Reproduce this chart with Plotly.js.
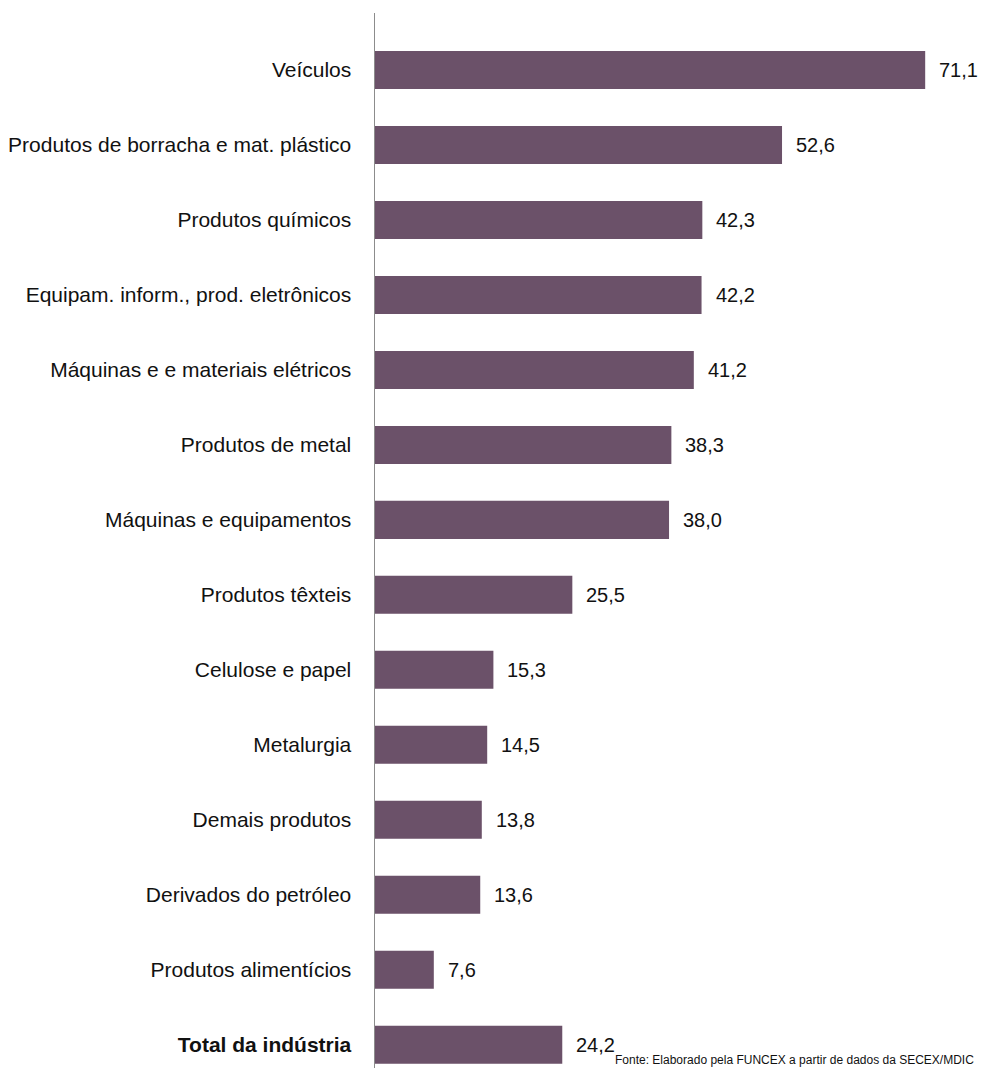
<!DOCTYPE html>
<html>
<head>
<meta charset="utf-8">
<script src="https://cdn.plot.ly/plotly-3.0.1.min.js"></script>
<style>
  html, body { margin: 0; padding: 0; background: #fff; }
  #chart { width: 984px; height: 1068px; }
</style>
</head>
<body>
<div id="chart"></div>
<script>
const categories = [
  "Veículos",
  "Produtos de borracha e mat. plástico",
  "Produtos químicos",
  "Equipam. inform., prod. eletrônicos",
  "Máquinas e e materiais elétricos",
  "Produtos de metal",
  "Máquinas e equipamentos",
  "Produtos têxteis",
  "Celulose e papel",
  "Metalurgia",
  "Demais produtos",
  "Derivados do petróleo",
  "Produtos alimentícios",
  "Total da indústria"
];
const values = [71.1, 52.6, 42.3, 42.2, 41.2, 38.3, 38.0, 25.5, 15.3, 14.5, 13.8, 13.6, 7.6, 24.2];
const boldCategories = ["Total da indústria"];
const sourceNote = "Fonte: Elaborado pela FUNCEX a partir de dados da SECEX/MDIC";

const FONT = "'Liberation Sans', Arial, Helvetica, sans-serif";
const TXT = "#111111";
const fmt = v => v.toFixed(1).replace('.', ',');

const ticktext = categories.map(c => boldCategories.includes(c) ? "<b>" + c + "</b>" : c);

const trace = {
  type: 'bar',
  orientation: 'h',
  x: values,
  y: categories,
  marker: { color: '#6b5169' },
  hoverinfo: 'none'
};

const annotations = values.map((v, i) => ({
  x: v, y: categories[i], xref: 'x', yref: 'y',
  text: fmt(v), showarrow: false, xanchor: 'left', xshift: 12,
  font: { family: FONT, size: 20, color: TXT }
}));
annotations.push({
  xref: 'paper', yref: 'paper', x: 0.392, y: 0, yshift: 0, xanchor: 'left', yanchor: 'bottom',
  text: sourceNote, showarrow: false, borderpad: 0,
  font: { family: FONT, size: 12, color: TXT }
});

const layout = {
  width: 984, height: 1068,
  margin: { l: 375, r: 0, t: 13, b: 0, pad: 0 },
  paper_bgcolor: '#fff', plot_bgcolor: '#fff',
  showlegend: false,
  bargap: 0.493,
  font: { family: FONT, size: 21, color: TXT },
  xaxis: { range: [0, 78.7], visible: false, fixedrange: true },
  yaxis: {
    type: 'category',
    range: [13.31, -0.76],
    tickvals: categories, ticktext: ticktext,
    showline: true, linecolor: '#8c8c8c', linewidth: 1.5,
    showgrid: false, zeroline: false, ticks: '',
    ticklabelstandoff: 18,
    tickfont: { family: FONT, size: 21, color: TXT }
  },
  annotations: annotations
};

Plotly.newPlot('chart', [trace], layout, { displayModeBar: false, staticPlot: true });
</script>
</body>
</html>
